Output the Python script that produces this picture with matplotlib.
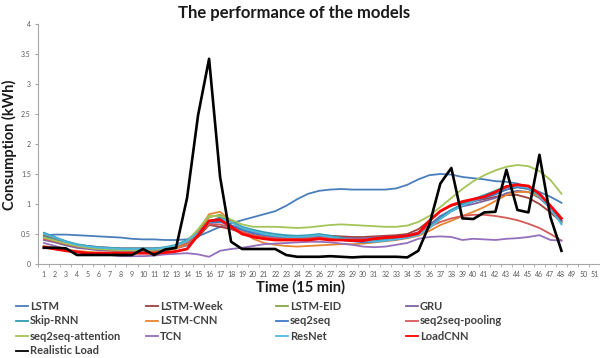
import matplotlib
matplotlib.use('Agg')
import matplotlib.pyplot as plt
from matplotlib.lines import Line2D
import numpy as np

plt.rcParams['font.family'] = ['Lato', 'DejaVu Sans']

steps = list(range(1, 49))
xticks = list(range(1, 52))

lstm = [0.47, 0.49, 0.49, 0.48, 0.47, 0.46, 0.45, 0.44, 0.42, 0.41, 0.41, 0.40, 0.40, 0.41, 0.46, 0.54,
        0.62, 0.68, 0.73, 0.78, 0.83, 0.88, 0.97, 1.08, 1.17, 1.22, 1.24, 1.25, 1.24, 1.24, 1.24, 1.24,
        1.26, 1.32, 1.41, 1.48, 1.50, 1.49, 1.45, 1.43, 1.41, 1.38, 1.37, 1.34, 1.28, 1.20, 1.12, 1.02]
lstm_week = [0.48, 0.43, 0.37, 0.32, 0.30, 0.28, 0.27, 0.26, 0.26, 0.26, 0.26, 0.27, 0.29, 0.33, 0.45, 0.65,
             0.62, 0.58, 0.52, 0.48, 0.45, 0.43, 0.44, 0.46, 0.47, 0.48, 0.47, 0.46, 0.45, 0.45, 0.46, 0.47,
             0.48, 0.50, 0.58, 0.72, 0.88, 0.97, 1.02, 1.05, 1.08, 1.12, 1.15, 1.15, 1.10, 1.00, 0.86, 0.70]
lstm_eid = [0.46, 0.40, 0.34, 0.30, 0.27, 0.25, 0.24, 0.23, 0.23, 0.23, 0.23, 0.25, 0.28, 0.35, 0.55, 0.78,
            0.82, 0.72, 0.60, 0.55, 0.50, 0.47, 0.45, 0.44, 0.44, 0.45, 0.43, 0.42, 0.41, 0.40, 0.41, 0.42,
            0.44, 0.46, 0.50, 0.60, 0.75, 0.88, 0.98, 1.05, 1.12, 1.18, 1.24, 1.28, 1.25, 1.13, 0.95, 0.72]
gru = [0.40, 0.36, 0.31, 0.27, 0.25, 0.23, 0.22, 0.21, 0.21, 0.21, 0.21, 0.23, 0.26, 0.31, 0.48, 0.70,
       0.72, 0.64, 0.56, 0.51, 0.48, 0.46, 0.45, 0.45, 0.46, 0.46, 0.45, 0.44, 0.43, 0.43, 0.44, 0.45,
       0.46, 0.48, 0.53, 0.65, 0.80, 0.90, 0.96, 1.00, 1.05, 1.10, 1.18, 1.22, 1.20, 1.10, 0.93, 0.72]
skip_rnn = [0.52, 0.45, 0.38, 0.33, 0.30, 0.28, 0.27, 0.26, 0.26, 0.26, 0.26, 0.28, 0.32, 0.40, 0.55, 0.70,
            0.78, 0.72, 0.62, 0.57, 0.53, 0.50, 0.48, 0.47, 0.48, 0.50, 0.47, 0.44, 0.40, 0.37, 0.38, 0.40,
            0.42, 0.45, 0.50, 0.62, 0.78, 0.90, 1.00, 1.08, 1.15, 1.22, 1.30, 1.32, 1.28, 1.15, 0.95, 0.68]
lstm_cnn = [0.30, 0.27, 0.24, 0.22, 0.20, 0.19, 0.19, 0.19, 0.19, 0.19, 0.20, 0.22, 0.26, 0.33, 0.55, 0.83,
            0.87, 0.72, 0.55, 0.42, 0.35, 0.32, 0.30, 0.29, 0.30, 0.31, 0.32, 0.33, 0.33, 0.34, 0.36, 0.38,
            0.40, 0.43, 0.47, 0.55, 0.65, 0.72, 0.80, 0.87, 0.95, 1.05, 1.15, 1.20, 1.20, 1.12, 0.95, 0.70]
seq2seq = [0.45, 0.40, 0.35, 0.31, 0.28, 0.26, 0.25, 0.24, 0.24, 0.24, 0.24, 0.26, 0.30, 0.37, 0.52, 0.68,
           0.70, 0.65, 0.57, 0.52, 0.48, 0.45, 0.43, 0.42, 0.43, 0.44, 0.42, 0.40, 0.38, 0.36, 0.37, 0.39,
           0.41, 0.44, 0.49, 0.60, 0.76, 0.88, 0.97, 1.04, 1.10, 1.16, 1.24, 1.28, 1.25, 1.14, 0.96, 0.72]
s2s_pool = [0.42, 0.38, 0.33, 0.29, 0.27, 0.25, 0.24, 0.23, 0.23, 0.23, 0.24, 0.26, 0.29, 0.35, 0.50, 0.66,
            0.66, 0.60, 0.53, 0.48, 0.45, 0.43, 0.42, 0.42, 0.43, 0.44, 0.43, 0.42, 0.41, 0.41, 0.42, 0.44,
            0.45, 0.47, 0.52, 0.62, 0.70, 0.76, 0.80, 0.82, 0.82, 0.80, 0.77, 0.73, 0.67, 0.60, 0.50, 0.39]
s2s_att = [0.44, 0.39, 0.34, 0.30, 0.27, 0.25, 0.24, 0.23, 0.23, 0.23, 0.24, 0.26, 0.30, 0.38, 0.58, 0.80,
           0.80, 0.74, 0.66, 0.62, 0.62, 0.62, 0.61, 0.60, 0.61, 0.63, 0.65, 0.66, 0.65, 0.64, 0.63, 0.62,
           0.62, 0.64, 0.70, 0.80, 0.95, 1.10, 1.25, 1.38, 1.48, 1.56, 1.62, 1.65, 1.63, 1.55, 1.40, 1.17]
tcn = [0.35, 0.30, 0.25, 0.20, 0.18, 0.16, 0.15, 0.13, 0.13, 0.13, 0.14, 0.16, 0.17, 0.18, 0.16, 0.12,
       0.22, 0.25, 0.27, 0.30, 0.33, 0.34, 0.35, 0.36, 0.37, 0.37, 0.36, 0.34, 0.32, 0.29, 0.28, 0.29,
       0.32, 0.35, 0.42, 0.45, 0.46, 0.45, 0.40, 0.42, 0.41, 0.40, 0.42, 0.43, 0.45, 0.48, 0.40, 0.39]
resnet = [0.50, 0.44, 0.37, 0.32, 0.29, 0.27, 0.26, 0.25, 0.25, 0.25, 0.25, 0.27, 0.31, 0.38, 0.52, 0.70,
          0.75, 0.70, 0.60, 0.55, 0.50, 0.47, 0.45, 0.45, 0.46, 0.48, 0.45, 0.42, 0.40, 0.38, 0.37, 0.39,
          0.41, 0.44, 0.48, 0.60, 0.75, 0.88, 0.97, 1.05, 1.12, 1.20, 1.27, 1.30, 1.27, 1.13, 0.92, 0.66]
loadcnn = [0.28, 0.25, 0.22, 0.20, 0.18, 0.18, 0.18, 0.18, 0.18, 0.18, 0.18, 0.19, 0.21, 0.25, 0.48, 0.72,
           0.74, 0.62, 0.50, 0.45, 0.42, 0.40, 0.40, 0.40, 0.40, 0.42, 0.40, 0.40, 0.39, 0.39, 0.42, 0.44,
           0.45, 0.47, 0.51, 0.72, 0.88, 0.98, 1.04, 1.08, 1.12, 1.20, 1.29, 1.32, 1.30, 1.17, 0.97, 0.76]
real = [0.27, 0.27, 0.26, 0.15, 0.15, 0.15, 0.15, 0.15, 0.15, 0.25, 0.15, 0.24, 0.27, 1.10, 2.48, 3.42,
        1.45, 0.37, 0.25, 0.25, 0.25, 0.25, 0.15, 0.12, 0.12, 0.12, 0.13, 0.12, 0.11, 0.12, 0.12, 0.12,
        0.12, 0.11, 0.22, 0.65, 1.34, 1.60, 0.76, 0.75, 0.86, 0.87, 1.57, 0.90, 0.86, 1.82, 0.78, 0.22]

# name, values, colour, width (legend order, row-wise)
series = [
    ('LSTM', lstm, '#4a7ebb', 1.3),
    ('LSTM-Week', lstm_week, '#a0403e', 1.3),
    ('LSTM-EID', lstm_eid, '#86a83f', 1.3),
    ('GRU', gru, '#7d64a0', 1.3),
    ('Skip-RNN', skip_rnn, '#2f9cb3', 1.3),
    ('LSTM-CNN', lstm_cnn, '#e8852f', 1.3),
    ('seq2seq', seq2seq, '#3f78c8', 1.3),
    ('seq2seq-pooling', s2s_pool, '#d55a57', 1.3),
    ('seq2seq-attention', s2s_att, '#a3c457', 1.3),
    ('TCN', tcn, '#9370bb', 1.3),
    ('ResNet', resnet, '#4fb8dc', 1.3),
    ('LoadCNN', loadcnn, '#ff0000', 2.0),
    ('Realistic Load', real, '#000000', 1.9),
]

fig = plt.figure(figsize=(6, 3.58), dpi=100)
ax = fig.add_axes([0.064, 0.2626, 0.936, 0.6704])

for name, vals, col, lw in series:
    ax.plot(steps, vals, color=col, lw=lw, label=name)

ax.set_xlim(0.5, 51.5)
ax.set_ylim(0, 4)
ax.set_xticks(xticks)
ax.set_xticklabels([str(v) for v in xticks])
ax.set_yticks([0, 0.5, 1, 1.5, 2, 2.5, 3, 3.5, 4])
ax.set_yticklabels(['0', '0.5', '1', '1.5', '2', '2.5', '3', '3.5', '4'])
ax.set_xticks(np.arange(0.5, 52, 1), minor=True)
ax.tick_params(axis='x', which='major', length=0, labelsize=5, colors='#595959', pad=5)
ax.tick_params(axis='x', which='minor', length=2.5, color='#a6a6a6')
ax.tick_params(axis='y', length=2.5, labelsize=5, colors='#595959', pad=3)
ax.tick_params(axis='y', color='#a6a6a6')
for s in ['top', 'right']:
    ax.spines[s].set_visible(False)
for s in ['left', 'bottom']:
    ax.spines[s].set_color('#a6a6a6')
    ax.spines[s].set_linewidth(0.8)

fig.text(0.49, 0.965, 'The performance of the models', ha='center', va='center',
         fontsize=12, fontweight='bold', color='#1a1a1a')
fig.text(0.5, 0.197, 'Time (15 min)', ha='center', va='center',
         fontsize=10.5, fontweight='bold', color='#1a1a1a')
fig.text(0.016, 0.595, 'Consumption (kWh)', ha='center', va='center', rotation=90,
         fontsize=10.5, fontweight='bold', color='#1a1a1a')

# legend: 4 equal columns, row-wise order
col_x = [16, 146, 276, 406]
row_y = [306, 321, 336, 351]
for i, (name, vals, col, lw) in enumerate(series):
    r, c = divmod(i, 4)
    x0 = col_x[c] / 600
    y0 = 1 - row_y[r] / 358
    fig.add_artist(Line2D([x0, x0 + 12 / 600], [y0, y0], color=col, lw=1.3,
                          transform=fig.transFigure))
    fig.text(x0 + 14 / 600, y0, name, ha='left', va='center', fontsize=8,
             fontweight='bold', color='#404040')

fig.savefig('out.png', dpi=100)
